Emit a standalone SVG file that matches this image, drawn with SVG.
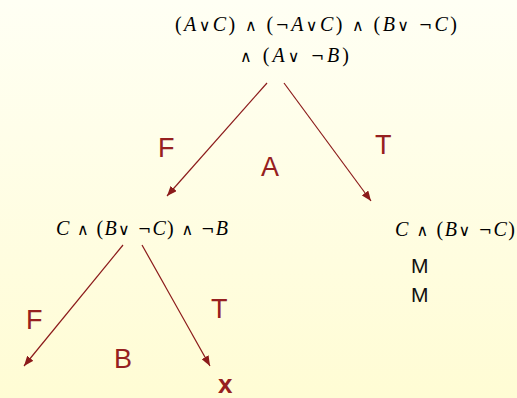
<svg xmlns="http://www.w3.org/2000/svg" width="517" height="398" viewBox="0 0 517 398">
<defs>
<linearGradient id="bg" x1="0" y1="0" x2="0" y2="1">
<stop offset="0" stop-color="#FFFFF4"/>
<stop offset="1" stop-color="#FFFCD4"/>
</linearGradient>
<marker id="ah" viewBox="0 0 10 8" refX="10" refY="4" markerWidth="10" markerHeight="8" markerUnits="userSpaceOnUse" orient="auto">
<path d="M0,0 L10,4 L0,8 z" fill="#8B1A1A"/>
</marker>
<style>
.f{font-family:"Liberation Serif","Times New Roman",serif;font-size:20px;fill:#000}
.f tspan.i{font-style:italic}
.f tspan.s{font-family:"DejaVu Serif","Liberation Serif",serif;font-size:16px}
.lbl{font-family:"Liberation Sans",Arial,sans-serif;font-size:27px;fill:#962020}
.m{font-family:"Liberation Sans",Arial,sans-serif;font-size:21px;fill:#111}
.edge{stroke:#8B1A1A;stroke-width:1.2;fill:none;marker-end:url(#ah)}
</style>
</defs>
<rect width="517" height="398" fill="url(#bg)"/>
<g id="connectors">
<line class="edge" x1="267" y1="83" x2="167" y2="196"/>
<line class="edge" x1="284" y1="83" x2="371" y2="201"/>
<line class="edge" x1="123" y1="245" x2="24" y2="366"/>
<line class="edge" x1="142" y1="245" x2="210" y2="366"/>
</g>
<g id="root">
<text class="f" x="175" y="31" textLength="282" lengthAdjust="spacing">(<tspan class="i">A</tspan><tspan class="s">∨</tspan><tspan class="i">C</tspan>) <tspan class="s">∧</tspan> (<tspan class="s">¬</tspan><tspan class="i">A</tspan><tspan class="s">∨</tspan><tspan class="i">C</tspan>) <tspan class="s">∧</tspan> (<tspan class="i">B</tspan><tspan class="s">∨ ¬</tspan><tspan class="i">C</tspan>)</text>
<text class="f" x="240" y="62" textLength="109" lengthAdjust="spacing"><tspan class="s">∧</tspan>  (<tspan class="i">A</tspan><tspan class="s">∨ ¬</tspan><tspan class="i">B</tspan>)</text>
</g>
<g id="labelsA">
<text class="lbl" x="158" y="157">F</text>
<text class="lbl" x="261" y="176">A</text>
<text class="lbl" x="375" y="154">T</text>
</g>
<g id="left">
<text class="f" x="56" y="235" textLength="172" lengthAdjust="spacing"><tspan class="i">C</tspan> <tspan class="s">∧</tspan> (<tspan class="i">B</tspan><tspan class="s">∨ ¬</tspan><tspan class="i">C</tspan>) <tspan class="s">∧ ¬</tspan><tspan class="i">B</tspan></text>
</g>
<g id="right">
<text class="f" x="395" y="236" textLength="120" lengthAdjust="spacing"><tspan class="i">C</tspan> <tspan class="s">∧</tspan> (<tspan class="i">B</tspan><tspan class="s">∨ ¬</tspan><tspan class="i">C</tspan>)</text>
<text class="m" x="411" y="273">M</text>
<text class="m" x="411" y="302">M</text>
</g>
<g id="labelsB">
<text class="lbl" x="26" y="329">F</text>
<text class="lbl" x="114" y="368">B</text>
<text class="lbl" x="211" y="318">T</text>
</g>
<g id="x">
<text class="lbl" x="218" y="393" style="font-weight:bold;font-size:26px">x</text>
</g>
</svg>
